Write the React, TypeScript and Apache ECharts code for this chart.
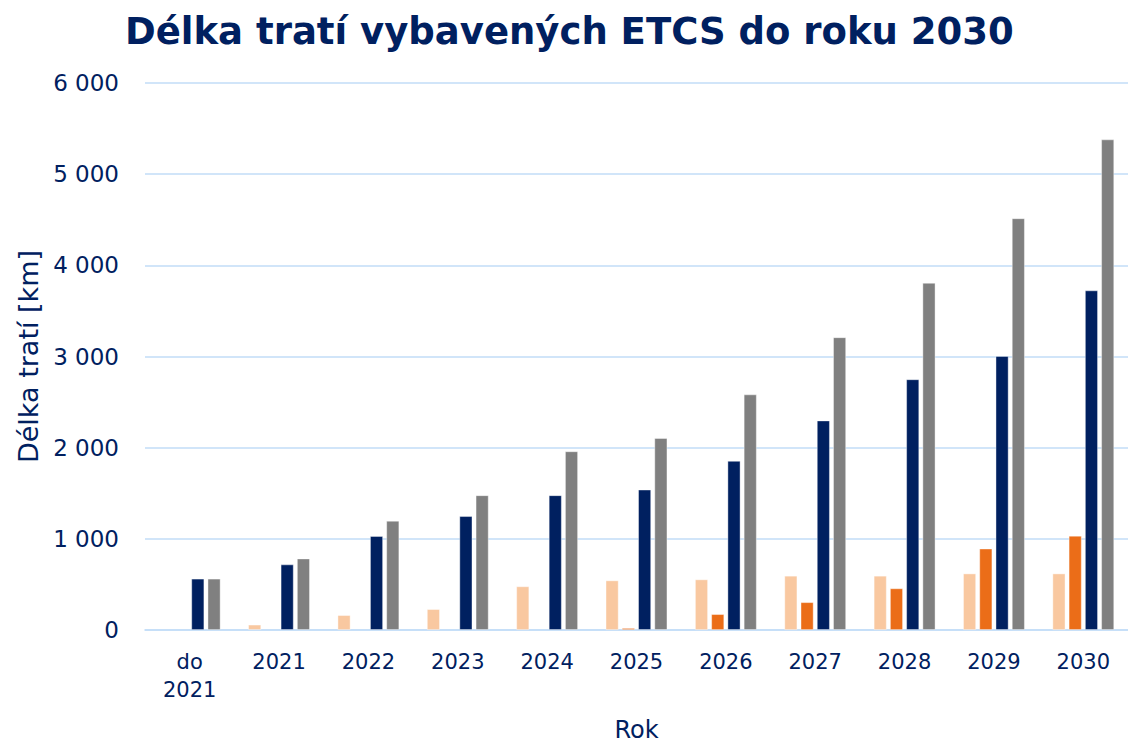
import React, { useEffect, useRef } from "react";
import * as echarts from "echarts";

const categories = ["do\n2021", "2021", "2022", "2023", "2024", "2025", "2026", "2027", "2028", "2029", "2030"];
const seriesPeach = [null, 58, 163, 229, 479, 544, 555, 595, 595, 620, 620];
const seriesOrange = [null, null, null, null, null, 22, 174, 305, 457, 893, 1034];
const seriesNavy = [563, 719, 1031, 1249, 1478, 1540, 1855, 2298, 2750, 3005, 3725];
const seriesGray = [563, 784, 1198, 1478, 1960, 2105, 2584, 3211, 3808, 4516, 5381];
const yTicks = { min: 0, max: 6000, interval: 1000 };

const TEXT = "#002060";
const FONT = "DejaVu Sans";

function fmt(v: number) {
  return String(v).replace(/\B(?=(\d{3})+(?!\d))/g, " ");
}

export default function App() {
  const ref = useRef<HTMLDivElement>(null);
  useEffect(() => {
    if (!ref.current) return;
    const chart = echarts.init(ref.current, undefined, { renderer: "svg" });
    const barCommon = {
      type: "bar" as const,
      barWidth: 13,
      barGap: "25%",
      itemStyle: { borderColor: "rgba(255,255,255,0.5)", borderWidth: 0.8 },
    };
    chart.setOption({
      animation: false,
      backgroundColor: "#ffffff",
      title: {
        text: "Délka tratí vybavených ETCS do roku 2030",
        left: 120,
        top: 8,
        textStyle: { color: TEXT, fontFamily: FONT, fontWeight: "bold", fontSize: 37 },
      },
      grid: { left: 145, width: 985, top: 83, height: 551, containLabel: false },
      xAxis: {
        type: "category",
        data: categories,
        name: "Rok",
        nameLocation: "middle",
        nameGap: 88,
        nameTextStyle: { color: TEXT, fontFamily: FONT, fontSize: 24 },
        axisLine: { show: true, lineStyle: { color: "#C2DDF7", width: 1.6 } },
        axisTick: { show: false },
        axisLabel: {
          color: TEXT,
          fontFamily: FONT,
          fontSize: 21,
          lineHeight: 28,
          margin: 18,
          interval: 0,
        },
      },
      yAxis: {
        type: "value",
        min: yTicks.min,
        max: yTicks.max,
        interval: yTicks.interval,
        name: "Délka tratí [km]",
        nameLocation: "middle",
        nameGap: 99,
        nameTextStyle: { color: TEXT, fontFamily: FONT, fontSize: 27 },
        axisLine: { show: false },
        axisTick: { show: false },
        axisLabel: {
          color: TEXT,
          fontFamily: FONT,
          fontSize: 23,
          margin: 26,
          formatter: (v: number) => fmt(v),
        },
        splitLine: { lineStyle: { color: "#C2DDF7", width: 1.6 } },
      },
      series: [
        { ...barCommon, name: "Řada 1", data: seriesPeach, color: "#F9C8A0" },
        { ...barCommon, name: "Řada 2", data: seriesOrange, color: "#EB6D18" },
        { ...barCommon, name: "Řada 3", data: seriesNavy, color: "#002060" },
        { ...barCommon, name: "Řada 4", data: seriesGray, color: "#808080" },
      ],
    });
    return () => chart.dispose();
  }, []);
  return (
    <div
      ref={ref}
      style={{ position: "fixed", left: 0, top: 0, width: 1128, height: 747, background: "#fff" }}
    />
  );
}
